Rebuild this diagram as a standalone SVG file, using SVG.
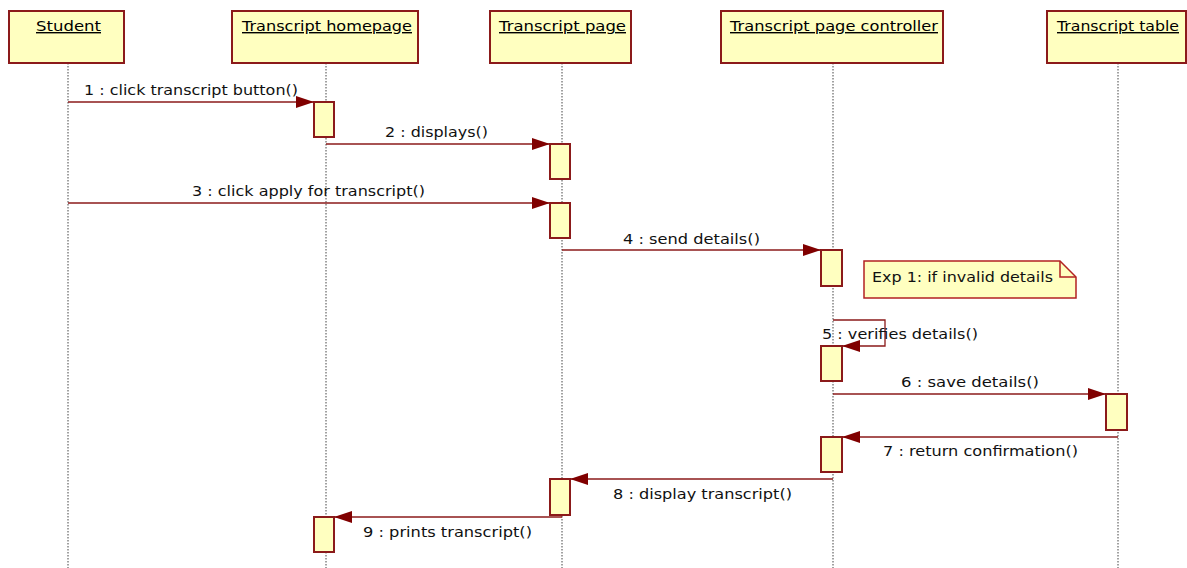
<svg xmlns="http://www.w3.org/2000/svg" width="1187" height="568" viewBox="0 0 1187 568">
  <style>
    .head { fill: #FFFFC0; stroke: #8B1A1A; stroke-width: 2; }
    .head-label { font-family: "DejaVu Sans", Verdana, sans-serif; font-size: 14px; fill: #000; text-decoration: underline; }
    .life { stroke: #444; stroke-width: 1; stroke-dasharray: 1.5 1.5; fill: none; }
    .act { fill: #FFFFC0; stroke: #8B1A1A; stroke-width: 2; }
    .msg { stroke: #8B1A1A; stroke-width: 1.3; fill: none; marker-end: url(#arrow); }
    .msg-label { font-family: "DejaVu Sans", Verdana, sans-serif; font-size: 14px; fill: #111; }
    .note { fill: #FFFFC0; stroke: #B22222; stroke-width: 1.5; }
  </style>
  <defs>
    <marker id="arrow" markerWidth="18" markerHeight="12" refX="18" refY="6" orient="auto" markerUnits="userSpaceOnUse">
      <path d="M0,0 L18,6 L0,12 Z" fill="#800000"/>
    </marker>
  </defs>
  <rect width="1187" height="568" fill="#fff"/>

  <!-- lifelines -->
  <g id="lifelines">
    <line class="life" x1="68" y1="63" x2="68" y2="568"/>
    <line class="life" x1="326" y1="63" x2="326" y2="568"/>
    <line class="life" x1="562" y1="63" x2="562" y2="568"/>
    <line class="life" x1="833" y1="63" x2="833" y2="568"/>
    <line class="life" x1="1118" y1="63" x2="1118" y2="568"/>
  </g>

  <!-- participants -->
  <g id="student">
    <rect class="head" x="9" y="11" width="115" height="52"/>
    <text class="head-label" x="36" y="31" textLength="65" lengthAdjust="spacingAndGlyphs">Student</text>
  </g>
  <g id="transcript-homepage">
    <rect class="head" x="232" y="11" width="186" height="52"/>
    <text class="head-label" x="242" y="31" textLength="170" lengthAdjust="spacingAndGlyphs">Transcript homepage</text>
    <rect class="act" x="314" y="102" width="20" height="35"/>
    <rect class="act" x="314" y="517" width="20" height="35"/>
  </g>
  <g id="transcript-page">
    <rect class="head" x="490" y="11" width="141" height="52"/>
    <text class="head-label" x="499" y="31" textLength="127" lengthAdjust="spacingAndGlyphs">Transcript page</text>
    <rect class="act" x="550" y="144" width="20" height="35"/>
    <rect class="act" x="550" y="203" width="20" height="35"/>
    <rect class="act" x="550" y="479" width="20" height="36"/>
  </g>
  <g id="transcript-page-controller">
    <rect class="head" x="721" y="11" width="222" height="52"/>
    <text class="head-label" x="730" y="31" textLength="208" lengthAdjust="spacingAndGlyphs">Transcript page controller</text>
    <rect class="act" x="821" y="250" width="21" height="36"/>
    <rect class="act" x="821" y="346" width="21" height="35"/>
    <rect class="act" x="821" y="437" width="21" height="35"/>
  </g>
  <g id="transcript-table">
    <rect class="head" x="1047" y="11" width="139" height="52"/>
    <text class="head-label" x="1057" y="31" textLength="122" lengthAdjust="spacingAndGlyphs">Transcript table</text>
    <rect class="act" x="1106" y="394" width="21" height="36"/>
  </g>

  <!-- note -->
  <g id="note-exp1">
    <path class="note" d="M864,261 L1060,261 L1076,277 L1076,298 L864,298 Z"/>
    <path d="M1060,261 L1060,277 L1076,277" fill="none" stroke="#B22222" stroke-width="1.5"/>
    <text class="msg-label" x="872" y="282" textLength="181" lengthAdjust="spacingAndGlyphs">Exp 1: if invalid details</text>
  </g>

  <!-- messages -->
  <g id="connectors">
    <line class="msg" x1="68" y1="102" x2="314" y2="102"/>
    <line class="msg" x1="326" y1="144" x2="550" y2="144"/>
    <line class="msg" x1="68" y1="203" x2="550" y2="203"/>
    <line class="msg" x1="562" y1="250" x2="821" y2="250"/>
    <path class="msg" d="M833,320 L885,320 L885,346 L842,346"/>
    <line class="msg" x1="833" y1="394" x2="1106" y2="394"/>
    <line class="msg" x1="1118" y1="437" x2="842" y2="437"/>
    <line class="msg" x1="833" y1="479" x2="570" y2="479"/>
    <line class="msg" x1="562" y1="517" x2="334" y2="517"/>
  </g>

  <!-- message labels -->
  <g id="labels">
    <text class="msg-label" x="84" y="95" textLength="214" lengthAdjust="spacingAndGlyphs">1 : click transcript button()</text>
    <text class="msg-label" x="385" y="137" textLength="103" lengthAdjust="spacingAndGlyphs">2 : displays()</text>
    <text class="msg-label" x="192" y="196" textLength="233" lengthAdjust="spacingAndGlyphs">3 : click apply for transcript()</text>
    <text class="msg-label" x="623" y="244" textLength="137" lengthAdjust="spacingAndGlyphs">4 : send details()</text>
    <text class="msg-label" x="822" y="339" textLength="156" lengthAdjust="spacingAndGlyphs">5 : verifies details()</text>
    <text class="msg-label" x="901" y="387" textLength="138" lengthAdjust="spacingAndGlyphs">6 : save details()</text>
    <text class="msg-label" x="883" y="456" textLength="195" lengthAdjust="spacingAndGlyphs">7 : return confirmation()</text>
    <text class="msg-label" x="613" y="499" textLength="179" lengthAdjust="spacingAndGlyphs">8 : display transcript()</text>
    <text class="msg-label" x="363" y="537" textLength="169" lengthAdjust="spacingAndGlyphs">9 : prints transcript()</text>
  </g>
</svg>
